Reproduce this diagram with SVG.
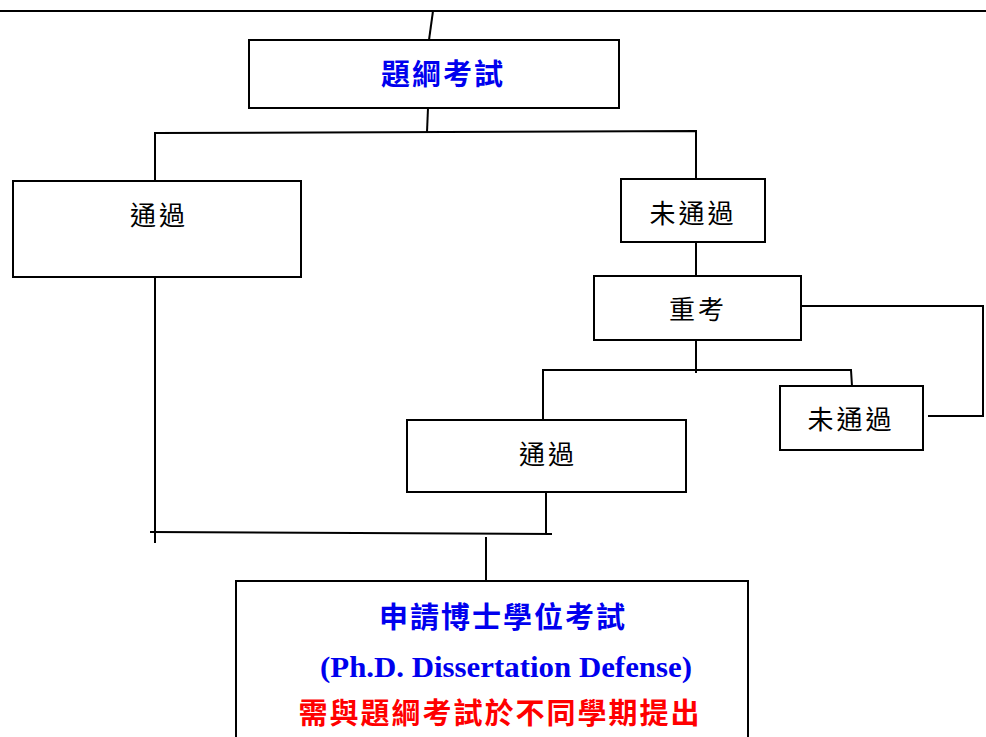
<svg xmlns="http://www.w3.org/2000/svg" width="986" height="737" viewBox="0 0 986 737">
<style>
.box{fill:#fff;stroke:#000;stroke-width:2}
.ln{fill:none;stroke:#000;stroke-width:2}
.lbl{font-family:"Noto Sans CJK TC","Noto Sans CJK SC",sans-serif;font-size:26px;letter-spacing:3px;fill:#000;text-anchor:middle}
.hd{font-family:"Noto Sans CJK TC","Noto Sans CJK SC",sans-serif;font-size:29px;font-weight:bold;text-anchor:middle;letter-spacing:2px}
.en{font-family:"Liberation Serif",serif;font-size:30px;font-weight:bold;fill:#0000ee;text-anchor:middle}
</style>
<rect width="986" height="737" fill="#fff"/>
<g id="connectors">
<line class="ln" x1="0" y1="11" x2="986" y2="11" stroke-width="2.5"/>
<line class="ln" x1="433" y1="11" x2="429" y2="40"/>
<line class="ln" x1="428" y1="108" x2="427" y2="132"/>
<polyline class="ln" points="155,181 155,133 696,131 696,179"/>
<line class="ln" x1="155" y1="277" x2="155" y2="543"/>
<line class="ln" x1="696" y1="242" x2="696" y2="276"/>
<polyline class="ln" points="797,306 983,306 983,416 928,416"/>
<line class="ln" x1="696" y1="340" x2="696" y2="373"/>
<polyline class="ln" points="543,420 543,370 851,370 852,386"/>
<line class="ln" x1="546" y1="492" x2="546" y2="534"/>
<line class="ln" x1="150" y1="532" x2="552" y2="534"/>
<line class="ln" x1="486" y1="537" x2="486" y2="581"/>
</g>
<g id="n1">
<rect class="box" x="249" y="40" width="370" height="68"/>
<text class="hd" x="443" y="85" fill="#0000ee">題綱考試</text>
</g>
<g id="n2">
<rect class="box" x="13" y="181" width="288" height="96"/>
<text class="lbl" x="159" y="225">通過</text>
</g>
<g id="n3">
<rect class="box" x="621" y="179" width="144" height="63"/>
<text class="lbl" x="693" y="223">未通過</text>
</g>
<g id="n4">
<rect class="box" x="594" y="276" width="207" height="64"/>
<text class="lbl" x="698" y="319">重考</text>
</g>
<g id="n5">
<rect class="box" x="780" y="386" width="143" height="64"/>
<text class="lbl" x="851" y="429">未通過</text>
</g>
<g id="n6">
<rect class="box" x="407" y="420" width="279" height="72"/>
<text class="lbl" x="548" y="464">通過</text>
</g>
<g id="n7">
<rect class="box" x="236" y="581" width="512" height="170"/>
<text class="hd" x="503" y="628" fill="#0000ee">申請博士學位考試</text>
<text class="en" x="506" y="677" textLength="372" lengthAdjust="spacingAndGlyphs">(Ph.D. Dissertation Defense)</text>
<text class="hd" x="500" y="724" fill="#ff0000">需與題綱考試於不同學期提出</text>
</g>
</svg>
